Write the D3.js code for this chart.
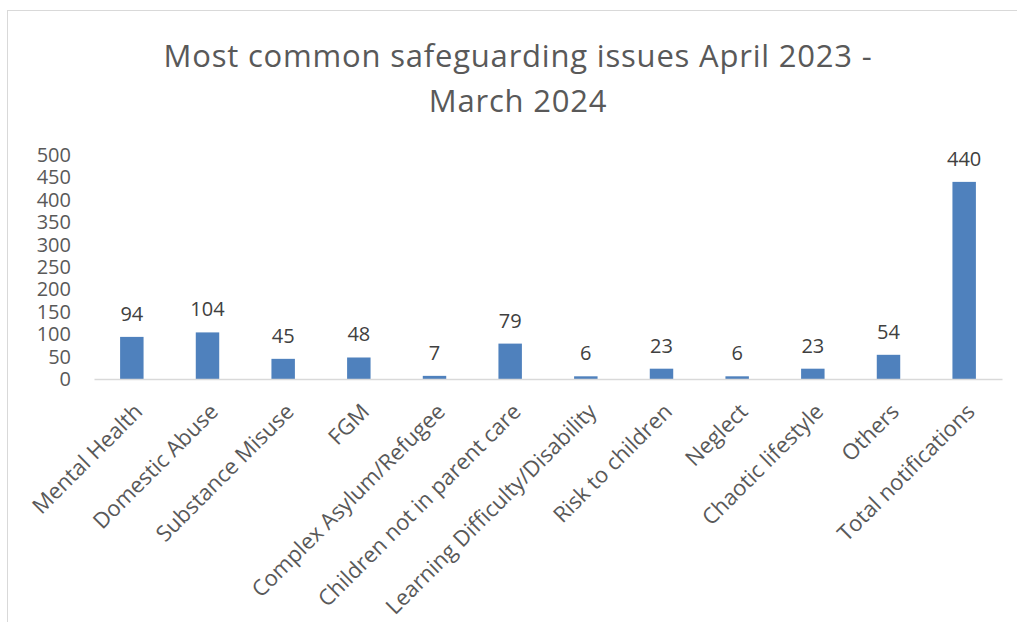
<!DOCTYPE html>
<html><head><meta charset="utf-8">
<script src="https://cdn.jsdelivr.net/npm/d3@7"></script>
<style>html,body{margin:0;padding:0;background:#fff}svg{display:block}</style>
</head><body>
<svg id="c" width="1017" height="622"></svg>
<script>
const categories = ["Mental Health","Domestic Abuse","Substance Misuse","FGM","Complex Asylum/Refugee","Children not in parent care","Learning Difficulty/Disability","Risk to children","Neglect","Chaotic lifestyle","Others","Total notifications"];
const values = [94,104,45,48,7,79,6,23,6,23,54,440];
const yTicks = [0,50,100,150,200,250,300,350,400,450,500];
const titleLines = ["Most common safeguarding issues April 2023 -","March 2024"];

const svg = d3.select("#c");
const font = "'Open Sans', 'Noto Sans', sans-serif";
svg.append("rect").attr("x",7.5).attr("y",10.5).attr("width",1040).attr("height",640)
  .attr("fill","none").attr("stroke","#d9d9d9").attr("stroke-width",1);

const x = d3.scaleBand().domain(categories).range([94,1002]).paddingInner(0.69).paddingOuter(0.345);
const y = d3.scaleLinear().domain([0,500]).range([379,155]);

svg.append("g").selectAll("text").data(titleLines).join("text")
  .attr("x",518).attr("y",(d,i)=>67+i*45).attr("text-anchor","middle")
  .attr("font-family",font).attr("font-size",31).attr("letter-spacing",0.8).attr("fill","#595959").text(d=>d);

const ya = d3.axisLeft(y).tickValues(yTicks).tickSize(0).tickPadding(0);
const gy = svg.append("g").attr("transform","translate(71,0)").call(ya);
gy.select(".domain").remove();
gy.selectAll("text").attr("font-family",font).attr("font-size",20).attr("fill","#595959");

svg.append("g").selectAll("rect").data(values).join("rect")
  .attr("x",(d,i)=>x(categories[i])).attr("width",x.bandwidth())
  .attr("y",d=>y(d)).attr("height",d=>y(0)-y(d)).attr("fill","#4f81bd");

const xa = d3.axisBottom(x).tickSize(0).tickPadding(0);
const gx = svg.append("g").attr("transform",`translate(0,${y(0)})`).call(xa);
gx.select(".domain").attr("stroke","#d9d9d9").attr("stroke-width",1.5);
gx.selectAll("text").attr("font-family",font).attr("font-size",22).attr("fill","#595959")
  .attr("text-anchor","end").attr("dy",0).attr("y",0)
  .attr("transform","translate(12,34) rotate(-45)");

svg.append("g").selectAll("text").data(values).join("text")
  .attr("x",(d,i)=>x(categories[i])+x.bandwidth()/2).attr("y",d=>y(d)-16)
  .attr("text-anchor","middle").attr("font-family",font).attr("font-size",20).attr("fill","#404040").text(d=>d);
</script>
</body></html>
